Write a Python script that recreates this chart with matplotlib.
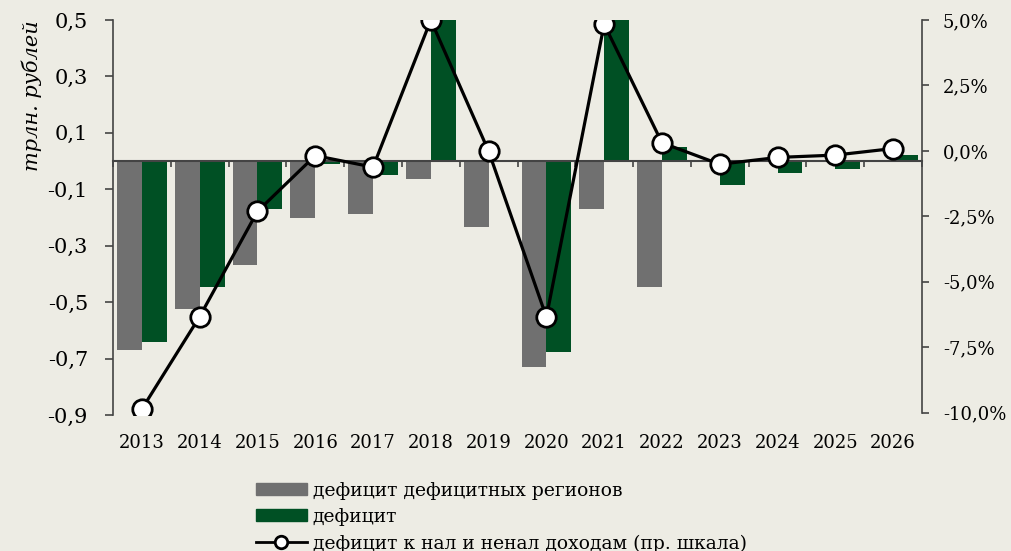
import numpy as np
import matplotlib
matplotlib.use('Agg')
import matplotlib.pyplot as plt

plt.rcParams['font.family'] = ['DejaVu Serif']

years = ['2013', '2014', '2015', '2016', '2017', '2018', '2019',
         '2020', '2021', '2022', '2023', '2024', '2025', '2026']
# дефицит дефицитных регионов, трлн руб
grey_vals = [-0.669, -0.524, -0.370, -0.201, -0.189, -0.065, -0.233,
             -0.731, -0.169, -0.447, 0.0, 0.0, 0.0, 0.0]
# дефицит, трлн руб
green_vals = [-0.642, -0.447, -0.171, -0.011, -0.050, 0.500, 0.004,
              -0.677, 0.500, 0.051, -0.085, -0.043, -0.029, 0.022]
# дефицит к нал и ненал доходам, %
line_vals = [-9.86, -6.33, -2.31, -0.18, -0.62, 5.0, -0.01,
             -6.35, 4.84, 0.31, -0.51, -0.25, -0.16, 0.09]

bg = '#EDECE4'
grey = '#707070'
green = '#005024'
axcol = '#444444'

fig = plt.figure(figsize=(10.11, 5.51), dpi=100)
fig.patch.set_facecolor(bg)
ax = fig.add_axes([113/1011, 1-415/551, 809/1011, 395/551])
ax.set_facecolor(bg)

x = np.arange(len(years))
w = 0.43
ax.bar(x, grey_vals, width=-w, align='edge', color=grey, zorder=2)
ax.bar(x, green_vals, width=w, align='edge', color=green, zorder=2)

ax.set_xlim(-0.5, len(years) - 0.5)
ax.set_ylim(-0.9, 0.5)
ax.set_yticks([0.5, 0.3, 0.1, -0.1, -0.3, -0.5, -0.7, -0.9])
ax.set_yticklabels([('%.1f' % v).replace('.', ',') for v in ax.get_yticks()])
ax.tick_params(axis='y', direction='out', length=6, width=1.2, color=axcol,
               labelsize=15, pad=12)

# zero axis with ticks at category boundaries
ax.spines['bottom'].set_position(('data', 0))
ax.spines['bottom'].set_color(axcol)
ax.spines['bottom'].set_linewidth(1.5)
ax.spines['bottom'].set_zorder(3)
ax.set_xticks(np.arange(-0.5, len(years), 1.0))
ax.set_xticklabels([])
ax.tick_params(axis='x', direction='out', length=4, width=1.2, color=axcol)
ax.spines['top'].set_visible(False)
ax.spines['right'].set_visible(False)
ax.spines['left'].set_color(axcol)
ax.spines['left'].set_linewidth(1.2)

sec = ax.secondary_xaxis(0)
sec.set_xticks(x)
sec.set_xticklabels(years)
sec.tick_params(length=0, labelsize=13, pad=14)
sec.spines['bottom'].set_visible(False)

ax.set_ylabel('трлн. рублей', fontsize=15, style='italic', loc='top', labelpad=4)

ax2 = ax.twinx()
ax2.plot(x, line_vals, color='black', lw=2.3, marker='o', ms=14,
         mfc='white', mec='black', mew=2, zorder=5)
ax2.set_ylim(-10.088, 5)
ax2.set_yticks([5, 2.5, 0, -2.5, -5, -7.5, -10])
ax2.set_yticklabels([('%.1f%%' % v).replace('.', ',') for v in [5, 2.5, 0, -2.5, -5, -7.5, -10]])
ax2.spines['right'].set_bounds(-10, 5)
ax2.spines['right'].set_color(axcol)
ax2.spines['right'].set_linewidth(1.2)
for s in ['top', 'left', 'bottom']:
    ax2.spines[s].set_visible(False)
ax2.tick_params(axis='y', direction='out', length=5, width=1.2, color=axcol,
                labelsize=13, pad=10)

h1 = plt.Rectangle((0, 0), 1, 1, color=grey)
h2 = plt.Rectangle((0, 0), 1, 1, color=green)
h3 = plt.Line2D([], [], color='black', lw=2, marker='o', ms=9, mfc='white', mec='black', mew=2)
fig.legend([h1, h2, h3],
           ['дефицит дефицитных регионов', 'дефицит',
            'дефицит к нал и ненал доходам (пр. шкала)'],
           loc='upper left', bbox_to_anchor=(248/1011, 1-474/551), frameon=False,
           fontsize=13.5, handlelength=2.75, handleheight=0.6, handletextpad=0.3,
           labelspacing=0.45, borderaxespad=0)

fig.savefig('out.png', dpi=100, facecolor=bg)
